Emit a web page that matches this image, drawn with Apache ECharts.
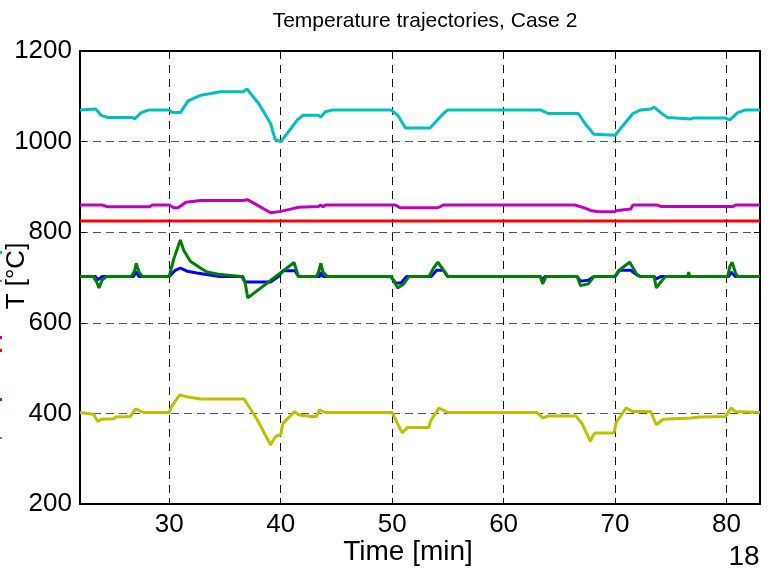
<!DOCTYPE html>
<html>
<head>
<meta charset="utf-8">
<script src="https://cdn.jsdelivr.net/npm/echarts@6/dist/echarts.min.js"></script>
<style>
  html, body { margin: 0; padding: 0; background: #fff; }
  #chart { width: 778px; height: 571px; }
</style>
</head>
<body>
<div id="chart"></div>
<script>
// time [min], temperature [°C]
var cyanData = [[22,1070],[23.4,1072],[23.9,1058],[24.5,1053],[26.7,1053],[26.9,1050],[27.5,1064],[28.2,1070],[30,1070],[30.3,1064],[31,1064],[31.7,1090],[32.8,1102],[34.6,1110],[36.6,1110],[37,1116],[37.3,1106],[38,1085],[39.1,1040],[39.5,1005],[40,1000],[40.4,1012],[41.5,1048],[42,1058],[43.4,1058],[43.6,1054],[44,1066],[44.7,1070],[49.9,1070],[50.5,1058],[51.2,1030],[53.4,1030],[54.6,1062],[55,1070],[63.3,1070],[64,1062],[66.7,1062],[67.3,1040],[68.1,1016],[70,1014],[71.6,1062],[72.3,1070],[73.2,1072],[73.5,1076],[74.1,1064],[74.7,1053],[76.8,1050],[77,1052],[79.9,1052],[80.3,1048],[81,1064],[81.7,1070],[83,1070]];
var magentaData = [[22,860],[24,860],[24.5,856],[28.2,856],[28.5,860],[30,860],[30.4,854],[30.8,854],[31.5,866],[32.8,870],[36.7,870],[37,872],[37.3,868],[39.1,843],[40,846],[40.9,851],[41.6,855],[43.4,857],[43.6,860],[43.8,856],[44,860],[50.3,860],[50.7,854],[54.1,854],[54.6,860],[66.4,860],[67.3,853],[67.8,848],[68.5,845],[69.9,845],[70.2,848],[71.4,851],[71.6,860],[73.8,860],[74.1,857],[80.6,857],[80.8,860],[83,860]];
var redData = [[22,825],[83,825]];
var blueData = [[22,702],[23.4,702],[23.6,695],[24,702],[26.8,702],[27,713],[27.3,702],[30,702],[30.5,715],[31,721],[31.6,714],[32.5,710],[33.5,706],[34.5,702],[36.6,702],[36.8,690],[39.1,690],[39.8,702],[40.2,715],[41.3,715],[41.6,702],[43.5,702],[43.6,712],[43.8,702],[49.9,702],[50.3,688],[50.8,688],[51.3,702],[53.5,702],[54,716],[54.6,716],[55,702],[63.3,702],[63.5,695],[63.7,702],[66.6,702],[66.9,692],[67.6,694],[68.1,702],[70,702],[70.4,716],[71.4,716],[72,705],[72.3,702],[73.5,702],[73.7,697],[74.1,702],[80.2,702],[80.4,712],[80.8,702],[83,702]];
var greenData = [[22,702],[23.2,702],[23.5,690],[23.7,677],[24,695],[24.4,702],[26.6,702],[26.9,715],[27.05,731],[27.3,712],[27.6,702],[30,702],[30.4,740],[31,783],[31.3,760],[31.9,736],[32.8,721],[33.4,712],[34.4,707],[36.5,702],[36.8,690],[37.05,655],[41.2,733],[41.6,702],[43.2,702],[43.4,712],[43.6,731],[43.8,712],[44.2,702],[49.9,702],[50.2,690],[50.5,677],[51,685],[51.5,702],[53.3,702],[53.7,720],[54.1,734],[54.5,720],[55,702],[63.3,702],[63.5,686],[63.8,702],[66.6,702],[66.9,682],[67.6,686],[68.1,702],[70,702],[70.3,715],[71,728],[71.3,734],[72,705],[72.3,702],[73.5,702],[73.7,677],[74.1,690],[74.5,702],[76.5,702],[76.6,712],[76.7,702],[80.1,702],[80.3,725],[80.5,734],[80.8,710],[81,702],[83,702]];
var yellowData = [[22,402],[23.2,398],[23.6,382],[23.9,387],[25,388],[25.2,392],[26.5,393],[27,410],[27.7,402],[30,402],[30.3,419],[30.95,441],[31.7,436],[32.8,432],[36.7,432],[37.05,419],[37.9,386],[39.1,330],[39.3,340],[39.55,349],[40,353],[40.2,378],[41.25,404],[41.6,397],[42.7,393],[43.2,393],[43.5,408],[44,402],[50,402],[50.9,357],[51.4,369],[53.3,369],[53.45,383],[54.2,412],[55,402],[63,402],[63.5,390],[64,394],[66.5,394],[67.07,376],[67.8,338],[68,350],[68.2,357],[69.9,357],[70.1,380],[71,412],[71.6,404],[73.2,404],[73.7,375],[74.3,387],[76.8,390],[77.6,392],[79.9,393],[80.4,412],[80.8,404],[83,402]];

var xMin = 22, xMax = 83;
var yMin = 200, yMax = 1200, yStep = 200;

var font = 'Liberation Sans, Arial, sans-serif';

function line(name, data, color) {
    return {
        name: name,
        type: 'line',
        data: data,
        showSymbol: false,
        lineStyle: { color: color, width: 3 },
        itemStyle: { color: color }
    };
}

var option = {
    animation: false,
    backgroundColor: '#fff',
    title: {
        text: 'Temperature trajectories, Case 2',
        left: 420,
        textAlign: 'center',
        top: 6,
        textStyle: { fontFamily: font, fontSize: 21, fontWeight: 'normal', color: '#000' }
    },
    grid: { left: 80, right: 18, top: 51, bottom: 67 },
    xAxis: [{
        type: 'value',
        min: xMin,
        max: xMax,
        splitNumber: 6,
        axisLine: { lineStyle: { color: '#000', width: 2 } },
        axisTick: { inside: true, length: 6, lineStyle: { color: '#000' } },
        axisLabel: {
            fontFamily: font, fontSize: 26, color: '#000', margin: 8,
            formatter: function (v) { return v % 10 === 0 ? String(v) : ''; }
        },
        splitLine: { show: true, lineStyle: { color: '#111', type: [8, 6], width: 1 } }
    }, {
        type: 'value',
        position: 'top',
        min: xMin,
        max: xMax,
        splitNumber: 6,
        axisLine: { lineStyle: { color: '#000', width: 2 } },
        axisTick: { inside: true, length: 6, lineStyle: { color: '#000' } },
        axisLabel: { show: false },
        splitLine: { show: false }
    }],
    yAxis: [{
        type: 'value',
        min: yMin,
        max: yMax,
        interval: yStep,
        axisLine: { show: true, lineStyle: { color: '#000', width: 2 } },
        axisTick: { show: true, inside: true, length: 6, lineStyle: { color: '#000' } },
        axisLabel: {
            fontFamily: font, fontSize: 26, color: '#000', margin: 8,
            formatter: function (v) { return String(v); }
        },
        splitLine: { show: true, lineStyle: { color: '#555', type: [8, 5], width: 1 } }
    }, {
        type: 'value',
        position: 'right',
        min: yMin,
        max: yMax,
        interval: yStep,
        axisLine: { show: true, lineStyle: { color: '#000', width: 2 } },
        axisTick: { show: true, inside: true, length: 6, lineStyle: { color: '#000' } },
        axisLabel: { show: false },
        splitLine: { show: false }
    }],
    graphic: [
        { type: 'text', x: 408, y: 552, style: { text: 'Time [min]', font: '28px ' + font, fill: '#000', textAlign: 'center', textVerticalAlign: 'middle' } },
        { type: 'text', x: 17, y: 276, rotation: Math.PI / 2, style: { text: 'T [°C]', font: '26px ' + font, fill: '#000', textAlign: 'center', textVerticalAlign: 'middle' } },
        { type: 'text', x: 744, y: 557, style: { text: '18', font: '28px ' + font, fill: '#000', textAlign: 'center', textVerticalAlign: 'middle' } },
        { type: 'rect', shape: { x: 0, y: 251, width: 2, height: 3 }, style: { fill: '#00BFBF' } },
        { type: 'rect', shape: { x: 0, y: 280, width: 2, height: 2 }, style: { fill: '#777' } },
        { type: 'rect', shape: { x: 0, y: 336, width: 2, height: 3 }, style: { fill: '#BF00BF' } },
        { type: 'rect', shape: { x: 0, y: 349, width: 2, height: 3 }, style: { fill: '#FF0000' } },
        { type: 'rect', shape: { x: 0, y: 398, width: 2, height: 3 }, style: { fill: '#008000' } },
        { type: 'rect', shape: { x: 0, y: 437, width: 2, height: 2 }, style: { fill: '#777' } }
    ],
    series: [
        line('yellow', yellowData, '#BFBF00'),
        line('cyan', cyanData, '#00BFBF'),
        line('magenta', magentaData, '#BF00BF'),
        line('red', redData, '#FF0000'),
        line('blue', blueData, '#0000FF'),
        line('green', greenData, '#008000')
    ]
};

var chart = echarts.init(document.getElementById('chart'));
chart.setOption(option);
</script>
</body>
</html>
